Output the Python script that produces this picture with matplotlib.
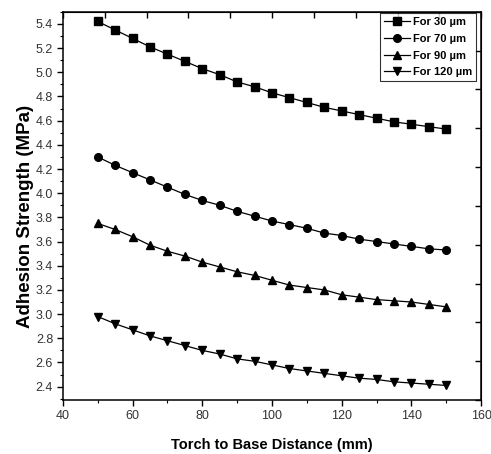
import numpy as np
import matplotlib.pyplot as plt
from matplotlib.ticker import MultipleLocator

plt.rcParams['font.family'] = ['Liberation Sans', 'DejaVu Sans']

distance = [50, 55, 60, 65, 70, 75, 80, 85, 90, 95, 100,
            105, 110, 115, 120, 125, 130, 135, 140, 145, 150]
s30 = [5.42, 5.35, 5.28, 5.21, 5.15, 5.09, 5.03, 4.98, 4.92, 4.88, 4.83,
       4.79, 4.75, 4.71, 4.68, 4.65, 4.62, 4.59, 4.57, 4.55, 4.53]
s70 = [4.30, 4.23, 4.17, 4.11, 4.05, 3.99, 3.94, 3.90, 3.85, 3.81, 3.77,
       3.74, 3.71, 3.67, 3.65, 3.62, 3.60, 3.58, 3.56, 3.54, 3.53]
s90 = [3.75, 3.70, 3.64, 3.57, 3.52, 3.48, 3.43, 3.39, 3.35, 3.32, 3.28,
       3.24, 3.22, 3.20, 3.16, 3.14, 3.12, 3.11, 3.10, 3.08, 3.06]
s120 = [2.98, 2.92, 2.87, 2.82, 2.78, 2.74, 2.70, 2.67, 2.63, 2.61, 2.58,
        2.55, 2.53, 2.51, 2.49, 2.47, 2.46, 2.44, 2.43, 2.42, 2.41]

series = [(s30, 's', 'For 30 µm'), (s70, 'o', 'For 70 µm'),
          (s90, '^', 'For 90 µm'), (s120, 'v', 'For 120 µm')]

fig = plt.figure(figsize=(4.91, 4.54), dpi=100)
ax = fig.add_axes([0.128, 0.119, 0.852, 0.855])

for vals, mk, lab in series:
    ax.plot(distance, vals, color='black', marker=mk, markersize=5.5,
            linewidth=0.9, label=lab)

ax.set_xlim(40, 160)
ax.set_ylim(2.29, 5.5)
ax.xaxis.set_major_locator(MultipleLocator(20))
ax.xaxis.set_minor_locator(MultipleLocator(10))
ax.yaxis.set_major_locator(MultipleLocator(0.2))
ax.yaxis.set_minor_locator(MultipleLocator(0.1))
ax.yaxis.set_major_formatter(plt.FormatStrFormatter('%.1f'))
ax.tick_params(which='major', direction='out', length=4, width=1,
               labelsize=9, colors='black', labelcolor='#333333', pad=3)
ax.tick_params(which='minor', direction='out', length=2.5, width=0.8)
for sp in ax.spines.values():
    sp.set_linewidth(1.1)

# top and right ticks, ten divisions, pointing in
top = ax.secondary_xaxis('top')
top.set_xticks(np.linspace(40, 160, 11))
top.set_xticklabels([])
top.tick_params(direction='in', length=4, width=1)
right = ax.secondary_yaxis('right')
right.set_yticks(np.linspace(2.29, 5.5, 11))
right.set_yticklabels([])
right.tick_params(direction='in', length=4, width=1)

ax.set_xlabel('Torch to Base Distance (mm)', fontsize=10.5, fontweight='bold')
ax.xaxis.set_label_coords(0.5, -0.097)
ax.set_ylabel('Adhesion Strength (MPa)', fontsize=13.5, fontweight='bold')
ax.yaxis.set_label_coords(-0.07, 0.473)

leg = ax.legend(loc='upper right', bbox_to_anchor=(0.988, 0.996),
                prop={'weight': 'bold', 'size': 8},
                frameon=True, fancybox=False, edgecolor='black',
                borderaxespad=0, handlelength=2.3, handletextpad=0.3,
                labelspacing=0.6, borderpad=0.35)
leg.get_frame().set_linewidth(0.8)

plt.savefig('out.png', dpi=100)
